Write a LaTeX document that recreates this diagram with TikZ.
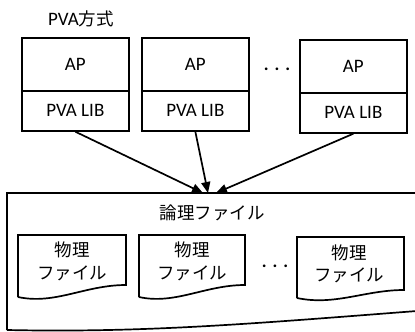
\documentclass[tikz,border=0pt]{standalone}
\usepackage{fontspec}
\setmainfont{Carlito}
\newfontfamily\jp{Noto Sans CJK JP}
\usetikzlibrary{arrows.meta}
\begin{document}
\begin{tikzpicture}[x=1pt,y=-1pt,
  ln/.style={line width=1.7pt},
  apbox/.style={draw,line width=1.7pt,inner sep=0pt,minimum width=107pt,minimum height=53pt,anchor=north west,font=\fontsize{19}{22}\selectfont},
  libbox/.style={draw,line width=1.7pt,inner sep=0pt,minimum width=107pt,minimum height=40pt,anchor=north west,font=\fontsize{19}{22}\selectfont},
  jtxt/.style={inner sep=0pt,font=\jp\fontsize{17.5}{20}\selectfont},
  dots/.style={inner sep=0pt,font=\bfseries\fontsize{18}{20}\selectfont},
  arr/.style={line width=1.7pt,-{Triangle[length=11pt,width=9pt]}}]
\useasboundingbox (0,0) rectangle (415,332);
% title
\node[inner sep=0pt,font=\fontsize{19}{22}\selectfont] (title) at (81,19) {PVA{\jp\fontsize{17.5}{20}\selectfont 方式}};
% top boxes
\node[apbox] (ap1) at (21,37) {AP};
\node[libbox] (lib1) at (21,90) {PVA LIB};
\node[apbox] (ap2) at (141,37) {AP};
\node[libbox] (lib2) at (141,90) {PVA LIB};
\node[apbox] (ap3) at (299,39) {AP};
\node[libbox] (lib3) at (299,92) {PVA LIB};
\node[dots] (d1) at (277,69) {.\hspace{6pt}.\hspace{6pt}.};
% big logical file shape
\draw[ln] (7,330) -- (7,193) -- (430,193);
\draw[ln] (7,330) .. controls (150,333) and (260,323) .. (430,310);
\node[jtxt] (logic) at (212,213) {論理ファイル};
% arrows
\coordinate (t1) at (203,193);
\coordinate (t2) at (208,193);
\coordinate (t3) at (216,193);
\draw[arr] (lib1.south) -- (t1);
\draw[arr] (lib2.south) -- (t2);
\draw[arr] (lib3.south) -- (t3);
% physical files
\draw[ln] (18,297) -- (18,235) -- (126,235) -- (126,285) .. controls (85,285) and (55,305) .. (18,297);
\node[jtxt] (p1a) at (72,250) {物理};
\node[jtxt] (p1b) at (72,273) {ファイル};
\draw[ln] (139,297) -- (139,235) -- (245,235) -- (245,285) .. controls (205,285) and (175,305) .. (139,297);
\node[jtxt] (p2a) at (192,250) {物理};
\node[jtxt] (p2b) at (192,273) {ファイル};
\node[dots] (d2) at (275,266) {.\hspace{6pt}.\hspace{6pt}.};
\draw[ln] (297,298) -- (297,237) -- (404,237) -- (404,290) .. controls (365,290) and (335,306) .. (297,298);
\node[jtxt] (p3a) at (349,253) {物理};
\node[jtxt] (p3b) at (349,275) {ファイル};
\end{tikzpicture}
\end{document}
